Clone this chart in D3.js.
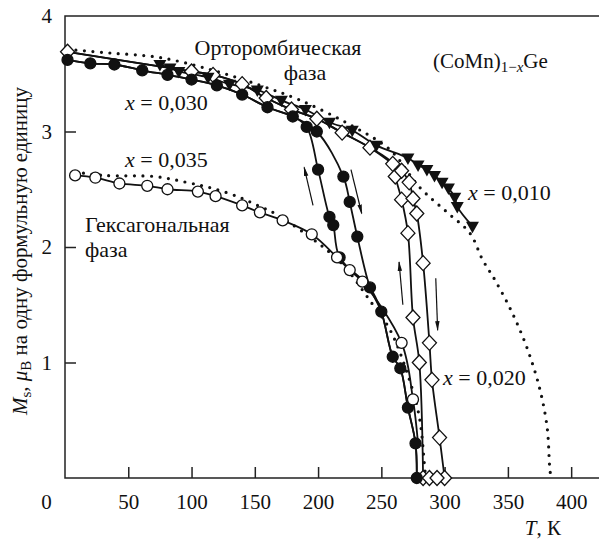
<!DOCTYPE html>
<html>
<head>
<meta charset="utf-8">
<script src="https://cdn.jsdelivr.net/npm/d3@7"></script>
<style>
  body { margin: 0; background: #fff; }
</style>
</head>
<body>
<div id="chart"></div>
<script>
/*
 * Ms(T) for (CoMn)1-xGe, hysteresis branches, dotted model curves
 */

var width = 599;
var height = 542;
var serif = 'Liberation Serif';

// x = 0.010, filled triangles
var temp010 = [75, 83, 90, 113, 130, 152, 171, 190, 209, 227, 246, 271, 279, 286, 292, 298, 303, 308, 310, 322];
var mag010 = [3.58, 3.55, 3.52, 3.47, 3.41, 3.36, 3.27, 3.19, 3.08, 3.01, 2.88, 2.77, 2.71, 2.67, 2.62, 2.56, 2.51, 2.43, 2.35, 2.18];

// x = 0.020, open diamonds: common part, cooling and heating branches
var tempTop020 = [2, 100, 117, 140, 159, 179, 199, 219, 241, 259];
var magTop020 = [3.69, 3.52, 3.49, 3.41, 3.29, 3.19, 3.11, 2.99, 2.86, 2.72];
var tempCool020 = [261, 266, 271, 275, 280, 283];
var magCool020 = [2.61, 2.41, 2.12, 1.39, 1.00, 0];
var tempHeat020 = [266, 272, 275, 278, 283, 288, 290, 296, 300];
var magHeat020 = [2.66, 2.56, 2.42, 2.29, 1.86, 1.17, 0.85, 0.35, 0];
var tempZero020 = [288, 294];

// x = 0.030, filled circles
var tempLow030 = [2, 20, 39, 61, 81, 100, 120, 140, 160, 180];
var magLow030 = [3.62, 3.59, 3.58, 3.53, 3.49, 3.45, 3.40, 3.32, 3.21, 3.13];
var tempCool030 = [191, 200, 209, 212, 217];
var magCool030 = [3.04, 2.67, 2.26, 2.19, 1.91];
var tempHeat030 = [199, 220, 225, 231];
var magHeat030 = [3.00, 2.61, 2.39, 2.09];
var tempHigh030 = [241, 250, 259, 265, 271, 277, 278];
var magHigh030 = [1.65, 1.44, 1.05, 0.95, 0.61, 0.30, 0];

// x = 0.035, open circles
var temp035 = [8, 24, 43, 65, 81, 105, 119, 140, 154, 172, 195, 215, 225, 235, 266, 275];
var mag035 = [2.62, 2.60, 2.55, 2.53, 2.50, 2.48, 2.44, 2.36, 2.30, 2.23, 2.11, 1.91, 1.80, 1.70, 1.17, 0.68];

// dotted curves
var tempDotA = [2, 35, 75, 117, 154, 186, 225, 257, 280, 302, 320, 330, 340, 353, 365, 375, 381, 383, 384];
var magDotA = [3.71, 3.68, 3.64, 3.53, 3.40, 3.27, 3.06, 2.84, 2.52, 2.30, 2.12, 1.89, 1.71, 1.44, 1.13, 0.78, 0.44, 0.10, 0];
var tempDotB = [8, 30, 71, 96, 116, 138, 154, 166, 204, 221, 242, 257, 271, 280, 284, 285];
var magDotB = [2.65, 2.62, 2.61, 2.56, 2.51, 2.43, 2.35, 2.29, 2.00, 1.83, 1.52, 1.28, 0.89, 0.53, 0.12, 0];

// arrows [T0, M0, T1, M1]
var arrows = [
    [196, 2.36, 189, 2.69],
    [226, 2.67, 234.5, 2.29],
    [267, 1.50, 264, 1.87],
    [293, 1.73, 294.5, 1.28]
];

var xTicks = [0, 50, 100, 150, 200, 250, 300, 350, 400];
var yTicks = [1, 2, 3, 4];

function zip(t, m) {
    return t.map(function (d, i) { return [d, m[i]]; });
}

var x = d3.scaleLinear().domain([0, 422]).range([65, 599]);
var y = d3.scaleLinear().domain([0, 4]).range([478, 16]);

var svg = d3.select('#chart')
    .append('svg')
    .attr('width', width)
    .attr('height', height)
    .attr('font-family', serif);

svg.append('defs').append('marker')
    .attr('id', 'head')
    .attr('viewBox', '0 0 10 10')
    .attr('refX', 9)
    .attr('refY', 5)
    .attr('markerWidth', 10)
    .attr('markerHeight', 10)
    .attr('markerUnits', 'userSpaceOnUse')
    .attr('orient', 'auto')
    .append('path')
    .attr('d', 'M0,2.8 L10,5 L0,7.2 Z')
    .attr('fill', '#111');

// frame
svg.append('path')
    .attr('d', 'M599,16 H65 V478 H599')
    .attr('fill', 'none')
    .attr('stroke', '#222')
    .attr('stroke-width', 1.5);

var xAxis = d3.axisBottom(x).tickValues(xTicks).tickSizeInner(-11).tickSizeOuter(0)
    .tickFormat(d3.format('d'));
var gx = svg.append('g').attr('transform', 'translate(0,478)').call(xAxis)
    .attr('font-family', serif).attr('font-size', 21);
gx.select('.domain').remove();
gx.selectAll('line').attr('stroke', '#222').attr('stroke-width', 1.5)
    .filter(function (d) { return d === 0; }).remove();
gx.selectAll('text')
    .attr('y', 31)
    .attr('dy', 0)
    .attr('fill', '#111');
gx.selectAll('.tick').filter(function (d) { return d === 0; })
    .select('text').attr('x', -19);

var yAxis = d3.axisLeft(y).tickValues(yTicks).tickSizeInner(-11).tickSizeOuter(0)
    .tickFormat(d3.format('d'));
var gy = svg.append('g').attr('transform', 'translate(65,0)').call(yAxis)
    .attr('font-family', serif).attr('font-size', 21);
gy.select('.domain').remove();
gy.selectAll('line').attr('stroke', '#222').attr('stroke-width', 1.5)
    .filter(function (d) { return d === 4; }).remove();
gy.selectAll('text')
    .attr('x', -13)
    .attr('fill', '#111');

var smooth = d3.line()
    .curve(d3.curveCatmullRom)
    .x(function (d) { return x(d[0]); })
    .y(function (d) { return y(d[1]); });

// dotted model curves
[zip(tempDotA, magDotA), zip(tempDotB, magDotB)].forEach(function (pts) {
    svg.append('path')
        .attr('d', smooth(pts))
        .attr('fill', 'none')
        .attr('stroke', '#111')
        .attr('stroke-width', 3.2)
        .attr('stroke-linecap', 'round')
        .attr('stroke-dasharray', '0,8.5');
});

var low030 = zip(tempLow030, magLow030);
var high030 = zip(tempHigh030, magHigh030);
var top020 = zip(tempTop020, magTop020);

var curves = [
    zip(temp010, mag010),
    top020.concat(zip(tempCool020, magCool020)),
    top020.concat(zip(tempHeat020, magHeat020)),
    [[283, 0], [288, 0], [294, 0], [300, 0]],
    low030.concat(zip(tempCool030, magCool030), high030),
    low030.concat(zip(tempHeat030, magHeat030), high030),
    zip(temp035, mag035).concat([[279, 0.3]])
];

curves.forEach(function (pts) {
    svg.append('path')
        .attr('d', smooth(pts))
        .attr('fill', 'none')
        .attr('stroke', '#111')
        .attr('stroke-width', 1.8);
});

// arrows
svg.selectAll('.arrow')
    .data(arrows)
    .enter()
    .append('line')
    .attr('class', 'arrow')
    .attr('x1', function (d) { return x(d[0]); })
    .attr('y1', function (d) { return y(d[1]); })
    .attr('x2', function (d) { return x(d[2]); })
    .attr('y2', function (d) { return y(d[3]); })
    .attr('stroke', '#111')
    .attr('stroke-width', 1.2)
    .attr('marker-end', 'url(#head)');

// markers
function circles(pts, fill) {
    svg.append('g').selectAll('circle')
        .data(pts)
        .enter()
        .append('circle')
        .attr('cx', function (d) { return x(d[0]); })
        .attr('cy', function (d) { return y(d[1]); })
        .attr('r', 5.5)
        .attr('fill', fill)
        .attr('stroke', '#111')
        .attr('stroke-width', 1.3);
}

function diamonds(pts) {
    svg.append('g').selectAll('path')
        .data(pts)
        .enter()
        .append('path')
        .attr('d', 'M0,-7.5 L7,0 L0,7.5 L-7,0 Z')
        .attr('transform', function (d) { return 'translate(' + x(d[0]) + ',' + y(d[1]) + ')'; })
        .attr('fill', '#fff')
        .attr('stroke', '#111')
        .attr('stroke-width', 1.3);
}

function triangles(pts) {
    svg.append('g').selectAll('path')
        .data(pts)
        .enter()
        .append('path')
        .attr('d', 'M-6.5,-4.5 L6.5,-4.5 L0,7 Z')
        .attr('transform', function (d) { return 'translate(' + x(d[0]) + ',' + y(d[1]) + ')'; })
        .attr('fill', '#111');
}

diamonds(top020.concat(zip(tempCool020, magCool020), zip(tempHeat020, magHeat020),
    tempZero020.map(function (t) { return [t, 0]; })));
triangles(zip(temp010, mag010));
circles(low030.concat(zip(tempCool030, magCool030), zip(tempHeat030, magHeat030), high030), '#111');
circles(zip(temp035, mag035), '#fff');

// labels
function label(tx, ty, parts, anchor, size) {
    var t = svg.append('text')
        .attr('x', tx)
        .attr('y', ty)
        .attr('text-anchor', anchor || 'start')
        .attr('font-family', serif)
        .attr('font-size', size || 22)
        .attr('fill', '#111');
    parts.forEach(function (p) {
        var s = t.append('tspan').text(p[0]);
        if (p[1] === 'i') s.attr('font-style', 'italic');
        if (p[1] === 'sub') s.attr('baseline-shift', '-25%').attr('font-size', 15);
        if (p[1] === 'isub') s.attr('baseline-shift', '-25%').attr('font-size', 15).attr('font-style', 'italic');
    });
    return t;
}

label(278, 55, [['Орторомбическая']], 'middle');
label(305, 80, [['фаза']], 'middle');
label(433, 68, [['(CoMn)'], ['1−', 'sub'], ['x', 'isub'], ['Ge']], 'start', 21);
label(125, 110, [['x', 'i'], [' = 0,030']]);
label(125, 167, [['x', 'i'], [' = 0,035']]);
label(85, 232, [['Гексагональная']]);
label(85, 257, [['фаза']]);
label(468, 200, [['x', 'i'], [' = 0,010']]);
label(443, 385, [['x', 'i'], [' = 0,020']]);
label(561, 535, [['T', 'i'], [', К']], 'end', 21);

label(0, 0, [['M', 'i'], ['s', 'sub'], [', '], ['μ', 'i'], ['B', 'sub'], [' на одну формульную единицу']], 'middle', 21)
    .attr('transform', 'translate(27,251) rotate(-90)');
</script>
</body>
</html>
